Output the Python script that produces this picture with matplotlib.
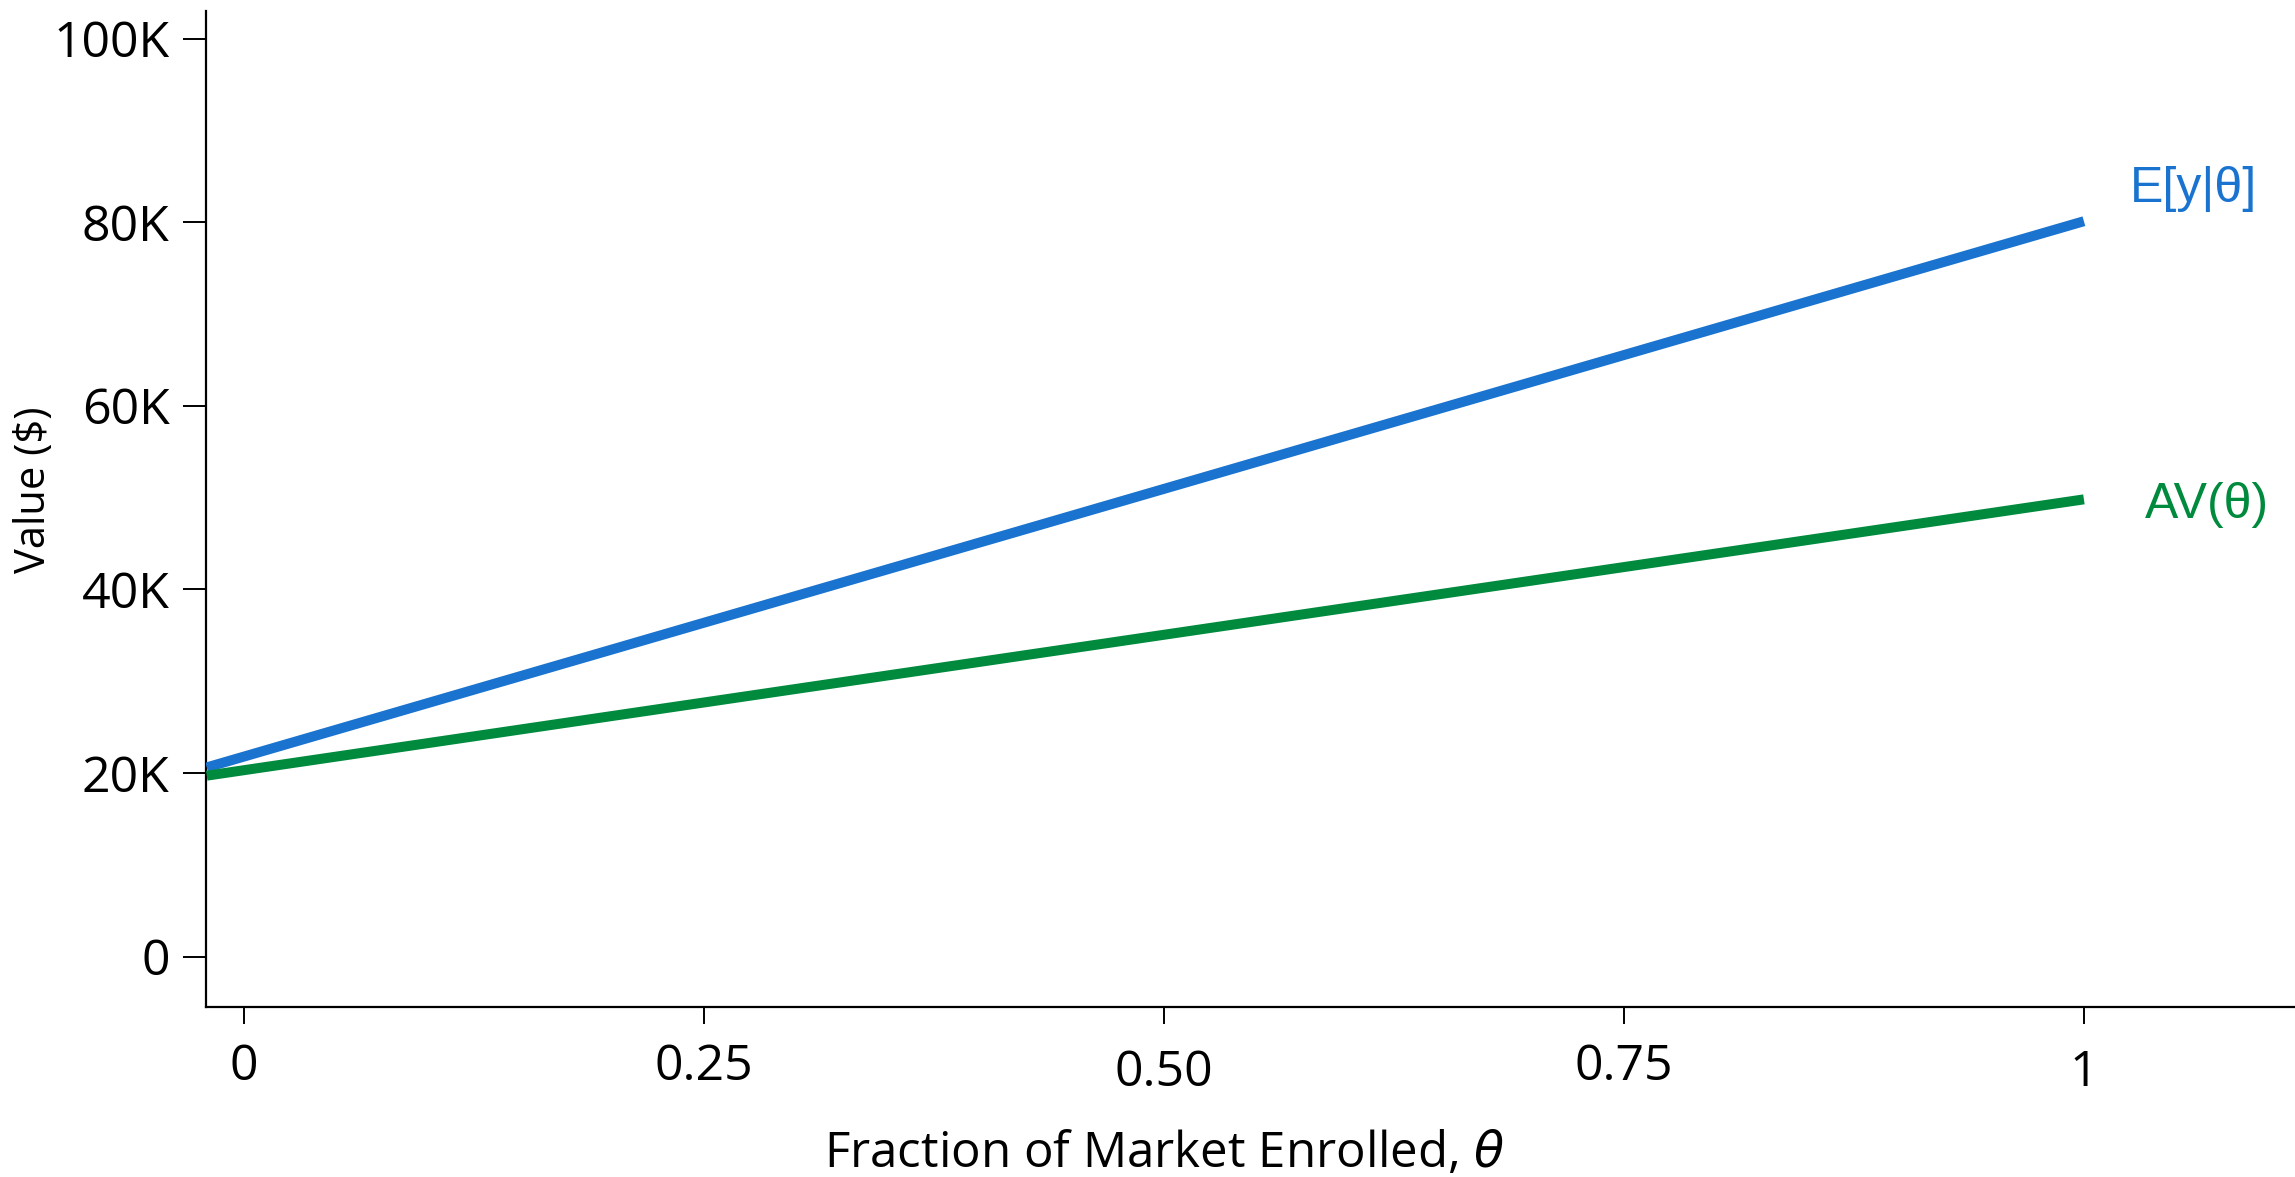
import matplotlib
matplotlib.use("Agg")
import matplotlib.pyplot as plt
from matplotlib.transforms import ScaledTranslation

# ---- data ----
theta = [-0.02, 1.0]
ey_theta = [20600, 80100]      # E[y|θ]
av_theta = [19700, 49800]      # AV(θ)

xticks = [0, 0.25, 0.5, 0.75, 1.0]
xtick_labels = ["0", "0.25", "0.50", "0.75", "1"]
yticks = [0, 20000, 40000, 60000, 80000, 100000]
ytick_labels = ["0", "20K", "40K", "60K", "80K", "100K"]

series_labels = ["E[y|θ]", "AV(θ)"]
blue = "#1a74cf"
green = "#008a3e"

plt.rcParams['font.family'] = ['Open Sans', 'DejaVu Sans']

W, H, DPI = 2295, 1177, 100
fig = plt.figure(figsize=(W / DPI, H / DPI), dpi=DPI)
ax = fig.add_axes([206 / W, 1 - 1007 / H, 1 - 206 / W, (1007 - 11) / H])

ax.plot(theta, ey_theta, color=blue, lw=7.2, solid_capstyle='butt', zorder=3)
ax.plot(theta, av_theta, color=green, lw=7.2, solid_capstyle='butt', zorder=4)

ax.set_xlim(-0.0204, 1.1147)
ax.set_ylim(-5500, 103000)

for s in ['top', 'right']:
    ax.spines[s].set_visible(False)
for s in ['left', 'bottom']:
    ax.spines[s].set_linewidth(1.6)
    ax.spines[s].set_color('black')

ax.set_xticks(xticks)
ax.set_xticklabels(xtick_labels)
ax.set_yticks(yticks)
ax.set_yticklabels(ytick_labels)
ax.tick_params(axis='x', length=12.2, width=1.4, pad=13, labelsize=36)
ax.tick_params(axis='y', length=16.6, width=1.4, pad=9.5, labelsize=36)

# some x tick labels sit slightly lower in the reference
off = ScaledTranslation(0, -7 / DPI, fig.dpi_scale_trans)
for lab in ax.get_xticklabels():
    if lab.get_text() in ("0.50", "1"):
        lab.set_transform(lab.get_transform() + off)

ax.set_xlabel(r"Fraction of Market Enrolled, $\theta$", fontsize=35.5)
ax.xaxis.set_label_coords(0.4585, -0.123)
ax.set_ylabel("Value ($)", fontsize=30)
ax.yaxis.set_label_coords(-0.0723, 0.519)

ax.text(1.025, ey_theta[-1] + 3500, series_labels[0], color=blue, fontsize=36,
        family=['Liberation Sans', 'DejaVu Sans'], ha='left', va='center')
ax.text(1.033, av_theta[-1] - 600, series_labels[1], color=green, fontsize=36,
        family=['Liberation Sans', 'DejaVu Sans'], ha='left', va='center')

fig.savefig("out.png", dpi=DPI)
